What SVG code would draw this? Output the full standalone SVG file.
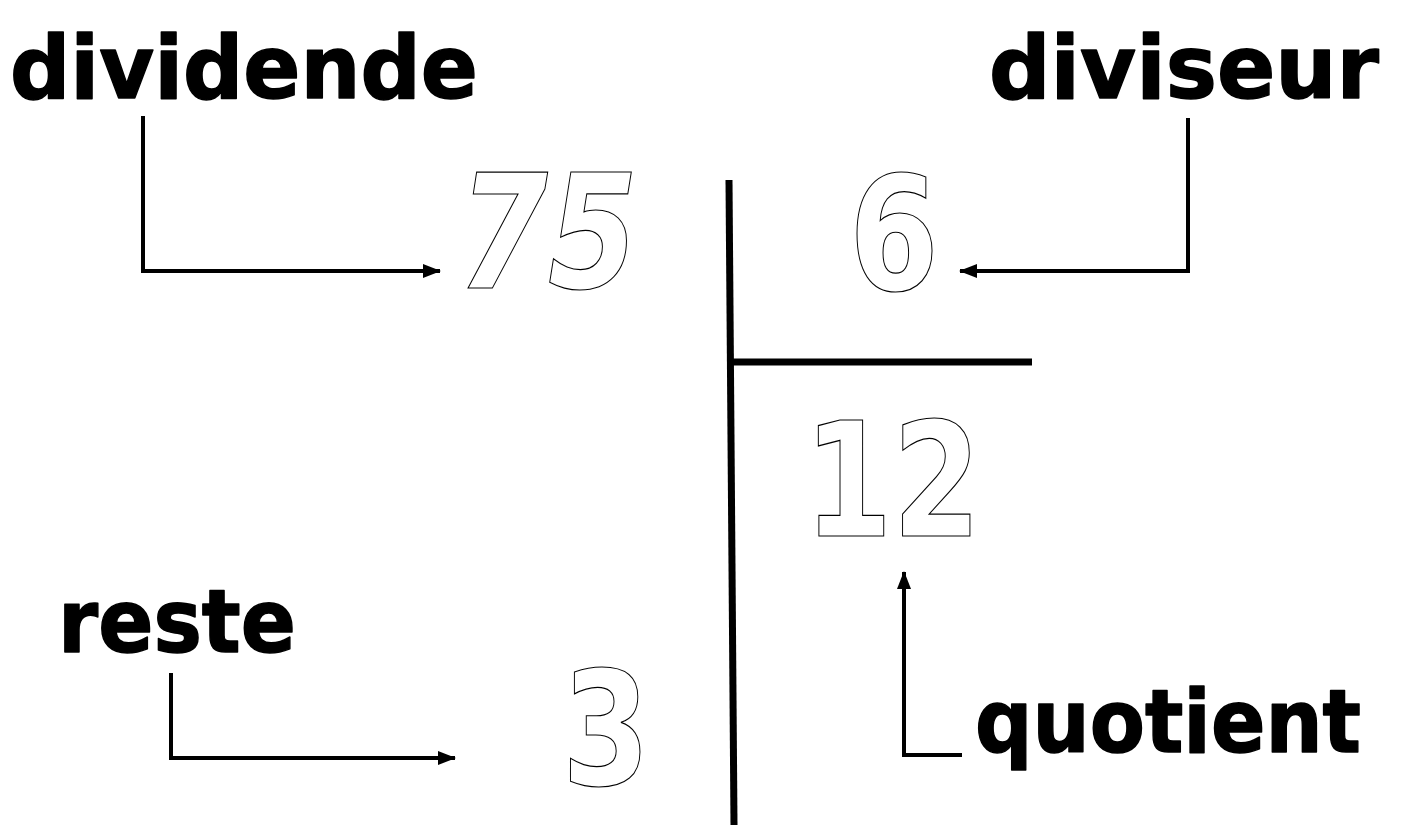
<svg xmlns="http://www.w3.org/2000/svg" width="1405" height="825" viewBox="0 0 1405 825">
  <style>
    .label { font-family: "DejaVu Sans", "Liberation Sans", sans-serif; font-weight: bold; fill: #000; stroke: #000; stroke-width: 1.5; stroke-linejoin: round; }
    .num { font-family: "DejaVu Sans", "Liberation Sans", sans-serif; font-weight: bold; fill: #fff; stroke: #000; stroke-width: 1.2; }
    .conn { fill: none; stroke: #000; stroke-width: 4; }
    .bar { fill: none; stroke: #000; stroke-width: 7; }
  </style>
  <defs>
    <marker id="ah" markerUnits="userSpaceOnUse" markerWidth="18" markerHeight="18" viewBox="0 0 18 18" refX="17" refY="9" orient="auto">
      <path d="M0,2 L18,9 L0,16 Z" fill="#000"/>
    </marker>
  </defs>
  <rect width="1405" height="825" fill="#fff"/>

  <g id="division-bars">
    <line class="bar" x1="729" y1="180" x2="734" y2="825"/>
    <line class="bar" x1="732" y1="362" x2="1032" y2="362"/>
  </g>

  <g id="connectors">
    <path class="conn" d="M143,116 V271 H440" marker-end="url(#ah)"/>
    <path class="conn" d="M1188,118 V271 H960" marker-end="url(#ah)"/>
    <path class="conn" d="M171,673 V758 H455" marker-end="url(#ah)"/>
    <path class="conn" d="M962,755 H904 V572" marker-end="url(#ah)"/>
  </g>

  <g id="dividende">
    <text class="label" x="10" y="98" font-size="88" textLength="468" lengthAdjust="spacingAndGlyphs">dividende</text>
  </g>
  <g id="diviseur">
    <text class="label" x="989" y="98" font-size="88" textLength="390" lengthAdjust="spacingAndGlyphs">diviseur</text>
  </g>
  <g id="reste">
    <text class="label" x="58" y="652" font-size="88" textLength="238" lengthAdjust="spacingAndGlyphs">reste</text>
  </g>
  <g id="quotient">
    <text class="label" x="975" y="752" font-size="88" textLength="386" lengthAdjust="spacingAndGlyphs">quotient</text>
  </g>

  <g id="n75">
    <text class="num" x="458" y="288" font-size="158" font-style="italic" textLength="180" lengthAdjust="spacingAndGlyphs">75</text>
  </g>
  <g id="n6">
    <text class="num" x="849" y="290" font-size="158" textLength="90" lengthAdjust="spacingAndGlyphs">6</text>
  </g>
  <g id="n12">
    <text class="num" x="804" y="536" font-size="158" textLength="177" lengthAdjust="spacingAndGlyphs">12</text>
  </g>
  <g id="n3">
    <text class="num" x="562" y="785" font-size="158" textLength="88" lengthAdjust="spacingAndGlyphs">3</text>
  </g>
</svg>
